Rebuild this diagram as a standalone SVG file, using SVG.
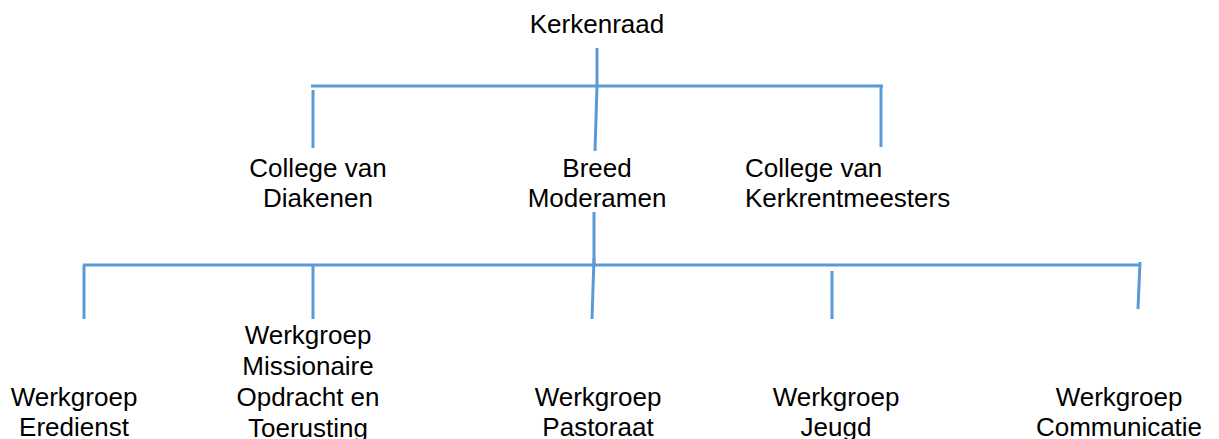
<svg xmlns="http://www.w3.org/2000/svg" width="1219" height="439" viewBox="0 0 1219 439">
<style>
.t{font-family:"Liberation Sans",Arial,sans-serif;font-size:26px;fill:#000;text-anchor:middle}
.l{text-anchor:start}
.c{stroke:#5B9BD5;stroke-width:3;fill:none;stroke-linecap:butt}
</style>
<rect width="1219" height="439" fill="#fff"/>
<g id="connectors" class="c">
<line x1="597" y1="48" x2="597" y2="86"/>
<line x1="311" y1="86" x2="883" y2="86"/>
<line x1="313" y1="90" x2="313" y2="148"/>
<line x1="881" y1="86" x2="881" y2="147"/>
<line x1="597" y1="86" x2="595" y2="151"/>
<line x1="594" y1="212" x2="594" y2="265"/>
<line x1="83" y1="265" x2="1141" y2="265"/>
<line x1="84" y1="265" x2="84" y2="319"/>
<line x1="313" y1="265" x2="313" y2="319"/>
<line x1="594" y1="258" x2="592" y2="319"/>
<line x1="832" y1="271" x2="832" y2="319"/>
<line x1="1140" y1="262" x2="1138" y2="309"/>
</g>
<g id="kerkenraad"><text class="t" x="597" y="33">Kerkenraad</text></g>
<g id="diakenen"><text class="t" x="318" y="177">College van</text><text class="t" x="318" y="207">Diakenen</text></g>
<g id="moderamen"><text class="t" x="597" y="177">Breed</text><text class="t" x="597" y="207">Moderamen</text></g>
<g id="kerkrentmeesters"><text class="t l" x="745" y="177">College van</text><text class="t l" x="745" y="207">Kerkrentmeesters</text></g>
<g id="eredienst"><text class="t" x="74" y="406">Werkgroep</text><text class="t" x="74" y="436">Eredienst</text></g>
<g id="missionaire"><text class="t" x="308" y="344">Werkgroep</text><text class="t" x="308" y="375">Missionaire</text><text class="t" x="308" y="406">Opdracht en</text><text class="t" x="308" y="437">Toerusting</text></g>
<g id="pastoraat"><text class="t" x="598" y="406">Werkgroep</text><text class="t" x="598" y="436">Pastoraat</text></g>
<g id="jeugd"><text class="t" x="836" y="406">Werkgroep</text><text class="t" x="836" y="436">Jeugd</text></g>
<g id="communicatie"><text class="t" x="1119" y="406">Werkgroep</text><text class="t" x="1119" y="436">Communicatie</text></g>
</svg>
